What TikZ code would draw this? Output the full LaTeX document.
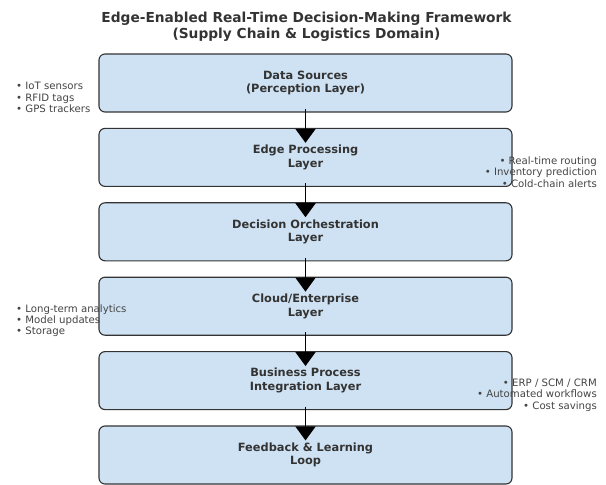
\documentclass[tikz,border=0pt]{standalone}
\usepackage{fontspec}
\setmainfont{DejaVu Sans}
\usetikzlibrary{arrows.meta}
\definecolor{boxfill}{HTML}{CFE2F3}
\definecolor{boxline}{HTML}{333333}
\definecolor{txt}{HTML}{333333}
\definecolor{sidetxt}{HTML}{444444}
\tikzset{
  layerbox/.style={draw=boxline, line width=1.1bp, fill=boxfill, rounded corners=6bp,
    minimum width=413bp, minimum height=58bp, inner sep=0pt, align=center,
    text=txt, font=\fontsize{11.4}{13.5}\selectfont\bfseries},
  flowarrow/.style={line width=1.5bp, -{Triangle[width=20bp,length=14bp]}},
  sidelist/.style={text=sidetxt, font=\fontsize{10.2}{11.4}\selectfont, inner sep=0pt},
  titletext/.style={text=txt, font=\fontsize{13.8}{16}\selectfont\bfseries, align=center, inner sep=0pt}
}
\begin{document}
\begin{tikzpicture}[x=1bp,y=-1bp]
\useasboundingbox (0,0) rectangle (606,485);
\node[titletext] (title) at (306.5,27) {Edge-Enabled Real-Time Decision-Making Framework\\(Supply Chain \& Logistics Domain)};
\node[layerbox] (b1) at (305.5,83) {Data Sources\\(Perception Layer)};
\node[layerbox] (b2) at (305.5,157.4) {Edge Processing\\Layer};
\node[layerbox] (b3) at (305.5,231.8) {Decision Orchestration\\Layer};
\node[layerbox] (b4) at (305.5,306.2) {Cloud/Enterprise\\Layer};
\node[layerbox] (b5) at (305.5,380.6) {Business Process\\Integration Layer};
\node[layerbox] (b6) at (305.5,455) {Feedback \& Learning\\Loop};
\foreach \a/\b in {b1/b2,b2/b3,b3/b4,b4/b5,b5/b6}
  \draw[flowarrow] ([yshift=3.5bp]\a.south) -- ([yshift=-15bp]\b.north);
\node[sidelist, anchor=west, align=left] (l1) at (16,97.5) {• IoT sensors\\• RFID tags\\• GPS trackers};
\node[sidelist, anchor=east, align=right] (r2) at (597,171.9) {• Real-time routing\\• Inventory prediction\\• Cold-chain alerts};
\node[sidelist, anchor=west, align=left] (l4) at (16,320.7) {• Long-term analytics\\• Model updates\\• Storage};
\node[sidelist, anchor=east, align=right] (r5) at (597,395.1) {• ERP / SCM / CRM\\• Automated workflows\\• Cost savings};
\end{tikzpicture}
\end{document}
